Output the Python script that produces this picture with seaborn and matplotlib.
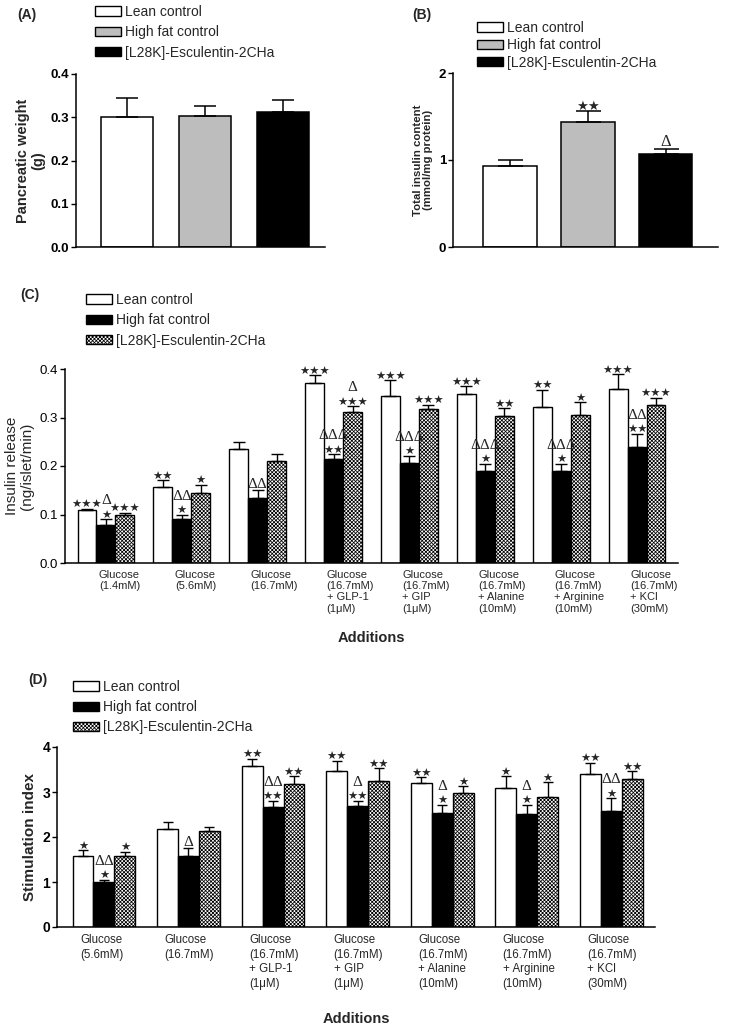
import matplotlib
matplotlib.use("Agg")
import matplotlib.pyplot as plt
import matplotlib.transforms as mtrans
from matplotlib.patches import Patch
import seaborn as sns
import pandas as pd

sns.set_theme(style="ticks")
plt.rcParams["font.family"] = ["Liberation Sans", "DejaVu Sans"]
plt.rcParams["hatch.linewidth"] = 0.55

# --- data ---
groups_ab = ["Lean control", "High fat control", "[L28K]-Esculentin-2CHa"]
groups_cd = ["Lean control", "High fat control", "[L28K]-Esculentin-2CHa"]

pancreas_mean = [0.300, 0.302, 0.313]
pancreas_sem = [0.045, 0.024, 0.027]

insulin_mean = [0.935, 1.44, 1.065]
insulin_sem = [0.065, 0.12, 0.065]
insulin_stars = ["", "★★", ""]
insulin_delta = ["", "", "Δ"]

release_labels = [
    "Glucose\n(1.4mM)", "Glucose\n(5.6mM)", "Glucose\n(16.7mM)",
    "Glucose\n(16.7mM)\n+ GLP-1\n(1μM)", "Glucose\n(16.7mM)\n+ GIP\n(1μM)",
    "Glucose\n(16.7mM)\n+ Alanine\n(10mM)", "Glucose\n(16.7mM)\n+ Arginine\n(10mM)",
    "Glucose\n(16.7mM)\n+ KCl\n(30mM)",
]
release_lean = [0.110, 0.157, 0.236, 0.371, 0.345, 0.348, 0.321, 0.359]
release_lean_err = [0.002, 0.014, 0.014, 0.016, 0.032, 0.016, 0.036, 0.030]
release_hf = [0.079, 0.090, 0.135, 0.215, 0.207, 0.190, 0.189, 0.240]
release_hf_err = [0.011, 0.010, 0.015, 0.009, 0.014, 0.014, 0.015, 0.026]
release_esc = [0.100, 0.144, 0.210, 0.311, 0.317, 0.303, 0.306, 0.326]
release_esc_err = [0.003, 0.017, 0.014, 0.012, 0.009, 0.016, 0.025, 0.015]
release_stars = [
    ["★★★", "★★", "", "★★★", "★★★", "★★★", "★★", "★★★"],
    ["★", "★", "", "★★", "★", "★", "★", "★★"],
    ["★★★", "★", "", "★★★", "★★★", "★★", "★", "★★★"],
]
release_delta = [
    ["", "", "", "", "", "", "", ""],
    ["Δ", "ΔΔ", "ΔΔ", "ΔΔΔ", "ΔΔΔ", "ΔΔΔ", "ΔΔΔ", "ΔΔ"],
    ["", "", "", "Δ", "", "", "", ""],
]

index_labels = [
    "Glucose\n(5.6mM)", "Glucose\n(16.7mM)",
    "Glucose\n(16.7mM)\n+ GLP-1\n(1μM)", "Glucose\n(16.7mM)\n+ GIP\n(1μM)",
    "Glucose\n(16.7mM)\n+ Alanine\n(10mM)", "Glucose\n(16.7mM)\n+ Arginine\n(10mM)",
    "Glucose\n(16.7mM)\n+ KCl\n(30mM)",
]
index_lean = [1.585, 2.185, 3.57, 3.46, 3.21, 3.08, 3.41]
index_lean_err = [0.12, 0.155, 0.17, 0.23, 0.12, 0.27, 0.24]
index_hf = [0.99, 1.57, 2.67, 2.70, 2.54, 2.52, 2.58]
index_hf_err = [0.06, 0.19, 0.14, 0.11, 0.17, 0.19, 0.28]
index_esc = [1.585, 2.126, 3.17, 3.25, 2.985, 2.90, 3.30]
index_esc_err = [0.09, 0.09, 0.18, 0.28, 0.145, 0.32, 0.16]
index_stars = [
    ["★", "", "★★", "★★", "★★", "★", "★★"],
    ["★", "", "★★", "★★", "★", "★", "★"],
    ["★", "", "★★", "★★", "★", "★", "★★"],
]
index_delta = [
    ["", "", "", "", "", "", ""],
    ["ΔΔ", "Δ", "ΔΔ", "Δ", "Δ", "Δ", "ΔΔ"],
    ["", "", "", "", "", "", ""],
]

STAR_FONT = ["DejaVu Sans"]
DELTA_FONT = ["Liberation Serif", "DejaVu Serif"]
HATCH = "xxxxxxxxx"


def mark(ax, x, top, stars, delta, ssize=8.2, dsize=11):
    # significance marks stacked above the error bar
    if stars:
        ax.annotate(stars, (x, top), xytext=(0, -1.0), textcoords="offset points",
                    ha="center", va="bottom", fontsize=ssize, family=STAR_FONT)
    if delta:
        off = -1.0 + 1.17 * ssize if stars else -0.8
        ax.annotate(delta, (x, top), xytext=(0, off), textcoords="offset points",
                    ha="center", va="bottom", fontsize=dsize, family=DELTA_FONT)


def style_axis(ax, ylim, yticks, ylabel, ylsize, tsize, bold_ticks, ylabelweight="bold"):
    ax.set_ylim(*ylim)
    ax.set_yticks(yticks)
    sns.despine(ax=ax)
    for s in ["left", "bottom"]:
        ax.spines[s].set_linewidth(1.1)
        ax.spines[s].set_color("black")
    ax.tick_params(axis="y", direction="out", length=3.5, width=1, colors="black",
                   labelsize=tsize, pad=1.5)
    ax.tick_params(axis="x", length=0)
    for lbl in ax.get_yticklabels():
        lbl.set_fontweight("bold" if bold_ticks else "normal")
    ax.set_ylabel(ylabel, fontsize=ylsize, fontweight=ylabelweight, linespacing=1.05,
                  labelpad=4)
    ax.set_xlabel("")


def simple_panel(ax, means, sems, colors, capsize, ylim, yticks, ylabel, ylsize, tsize,
                 xlim, width):
    df = pd.DataFrame({"group": groups_ab, "value": means})
    sns.barplot(data=df, x="group", y="value", hue="group", palette=colors, width=width,
                edgecolor="black", linewidth=1.1, errorbar=None, legend=False, ax=ax)
    xs = [p.get_x() + p.get_width() / 2 for p in ax.patches]
    ax.errorbar(xs, means, yerr=[[0] * len(means), sems], fmt="none", ecolor="black",
                elinewidth=1.1, capsize=capsize, capthick=1.1)
    ax.set_xlim(*xlim)
    ax.set_xticks([])
    style_axis(ax, ylim, yticks, ylabel, ylsize, tsize, True)
    return xs


def grouped_panel(ax, labels, series, errs, stars, deltas, capsize, ylim, yticks,
                  ylabel, ylsize, tsize, ylweight, bold_ticks, xlim, width, tick_dx,
                  tick_fs, tick_ls):
    rows = []
    for name, vals in zip(groups_cd, series):
        for lab, v in zip(labels, vals):
            rows.append({"cond": lab, "series": name, "value": v})
    df = pd.DataFrame(rows)
    sns.barplot(data=df, x="cond", y="value", hue="series", order=labels,
                hue_order=groups_cd, palette=["white", "black", "white"], width=width,
                edgecolor="black", linewidth=1.0, errorbar=None, legend=False, ax=ax)
    bars = list(ax.containers)
    for k, cont in enumerate(bars):
        xs = [p.get_x() + p.get_width() / 2 for p in cont.patches]
        if k == 2:
            for p in cont.patches:
                p.set_hatch(HATCH)
        ax.errorbar(xs, series[k], yerr=[[0] * len(xs), errs[k]], fmt="none",
                    ecolor="black", elinewidth=1.0, capsize=capsize, capthick=1.0)
        for x, v, e, s, d in zip(xs, series[k], errs[k], stars[k], deltas[k]):
            mark(ax, x, v + e, s, d)
    ax.set_xlim(*xlim)
    style_axis(ax, ylim, yticks, ylabel, ylsize, tsize, bold_ticks, ylweight)
    ax.set_xticks(range(len(labels)))
    ax.set_xticklabels(labels, fontsize=tick_fs, linespacing=tick_ls)
    ax.tick_params(axis="x", pad=5)
    shift = mtrans.ScaledTranslation(tick_dx / 100, 0, fig.dpi_scale_trans)
    for lbl in ax.get_xticklabels():
        lbl.set_ha("left")
        lbl.set_va("top")
        lbl.set_multialignment("left")
        lbl.set_transform(lbl.get_transform() + shift)


def add_legend(ax, colors, hatches, anchor, spacing):
    handles = [Patch(facecolor=c, edgecolor="black", hatch=h, linewidth=1.0)
               for c, h in zip(colors, hatches)]
    ax.legend(handles, groups_ab, loc="upper left", bbox_to_anchor=anchor,
              bbox_transform=fig.transFigure, frameon=False, fontsize=10,
              borderpad=0, borderaxespad=0, handlelength=1.85, handleheight=0.65,
              handletextpad=0.3, labelspacing=spacing)


fig = plt.figure(figsize=(7.5, 10.33), dpi=100)

axA = fig.add_axes([76 / 750, 1 - 247 / 1033, 249 / 750, 173 / 1033])
axB = fig.add_axes([453 / 750, 1 - 247 / 1033, 265 / 750, 174 / 1033])
axC = fig.add_axes([65 / 750, 1 - 563 / 1033, 613 / 750, 194 / 1033])
axD = fig.add_axes([57 / 750, 1 - 927 / 1033, 598 / 750, 180 / 1033])

ab_colors = ["white", "#bdbdbd", "black"]

# (A) pancreatic weight
simple_panel(axA, pancreas_mean, pancreas_sem, ab_colors, 8, (0, 0.4),
             [0, 0.1, 0.2, 0.3, 0.4], "Pancreatic weight\n(g)", 10.5, 9.5,
             (-0.654, 2.538), 0.667)
axA.set_yticklabels(["0.0", "0.1", "0.2", "0.3", "0.4"], fontweight="bold")
add_legend(axA, ab_colors, [None] * 3, (95 / 750, 1 - 5 / 1033), 0.45)

# (B) total insulin content
xsB = simple_panel(axB, insulin_mean, insulin_sem, ab_colors, 9, (0, 2), [0, 1, 2],
                   "Total insulin content\n(mmol/mg protein)", 8.2, 9.5,
                   (-0.731, 2.667), 0.68)
for x, v, e, s, d in zip(xsB, insulin_mean, insulin_sem, insulin_stars, insulin_delta):
    mark(axB, x, v + e, s, d, ssize=9.5, dsize=12)
add_legend(axB, ab_colors, [None] * 3, (477 / 750, 1 - 21 / 1033), 0.24)

# (C) insulin release
grouped_panel(axC, release_labels, [release_lean, release_hf, release_esc],
              [release_lean_err, release_hf_err, release_esc_err],
              release_stars, release_delta, 4, (0, 0.4), [0, 0.1, 0.2, 0.3, 0.4],
              "Insulin release\n(ng/islet/min)", 11, 9.5, "normal", False,
              (-0.54, 7.54), 0.75, -7, 8, 1.15)
axC.set_yticklabels(["0.0", "0.1", "0.2", "0.3", "0.4"])
axC.set_xlabel("Additions", fontsize=10.5, fontweight="bold")
axC.xaxis.set_label_coords(0.5, -0.35)
add_legend(axC, ["white", "black", "white"], [None, None, HATCH],
           (86 / 750, 1 - 293 / 1033), 0.45)

# (D) stimulation index
grouped_panel(axD, index_labels, [index_lean, index_hf, index_esc],
              [index_lean_err, index_hf_err, index_esc_err],
              index_stars, index_delta, 3.5, (0, 4), [0, 1, 2, 3, 4],
              "Stimulation index", 11, 10, "bold", True,
              (-0.556, 6.52), 0.745, -24, 8.3, 1.3)
axD.set_xlabel("Additions", fontsize=10.5, fontweight="bold")
axD.xaxis.set_label_coords(0.5, -0.47)
add_legend(axD, ["white", "black", "white"], [None, None, HATCH],
           (73 / 750, 1 - 680 / 1033), 0.45)

for txt, x, y in [("(A)", 17, 15), ("(B)", 412, 15), ("(C)", 20, 295), ("(D)", 28, 680)]:
    fig.text(x / 750, 1 - y / 1033, txt, fontsize=10, fontweight="bold", va="center")

fig.savefig("out.png", dpi=100)
